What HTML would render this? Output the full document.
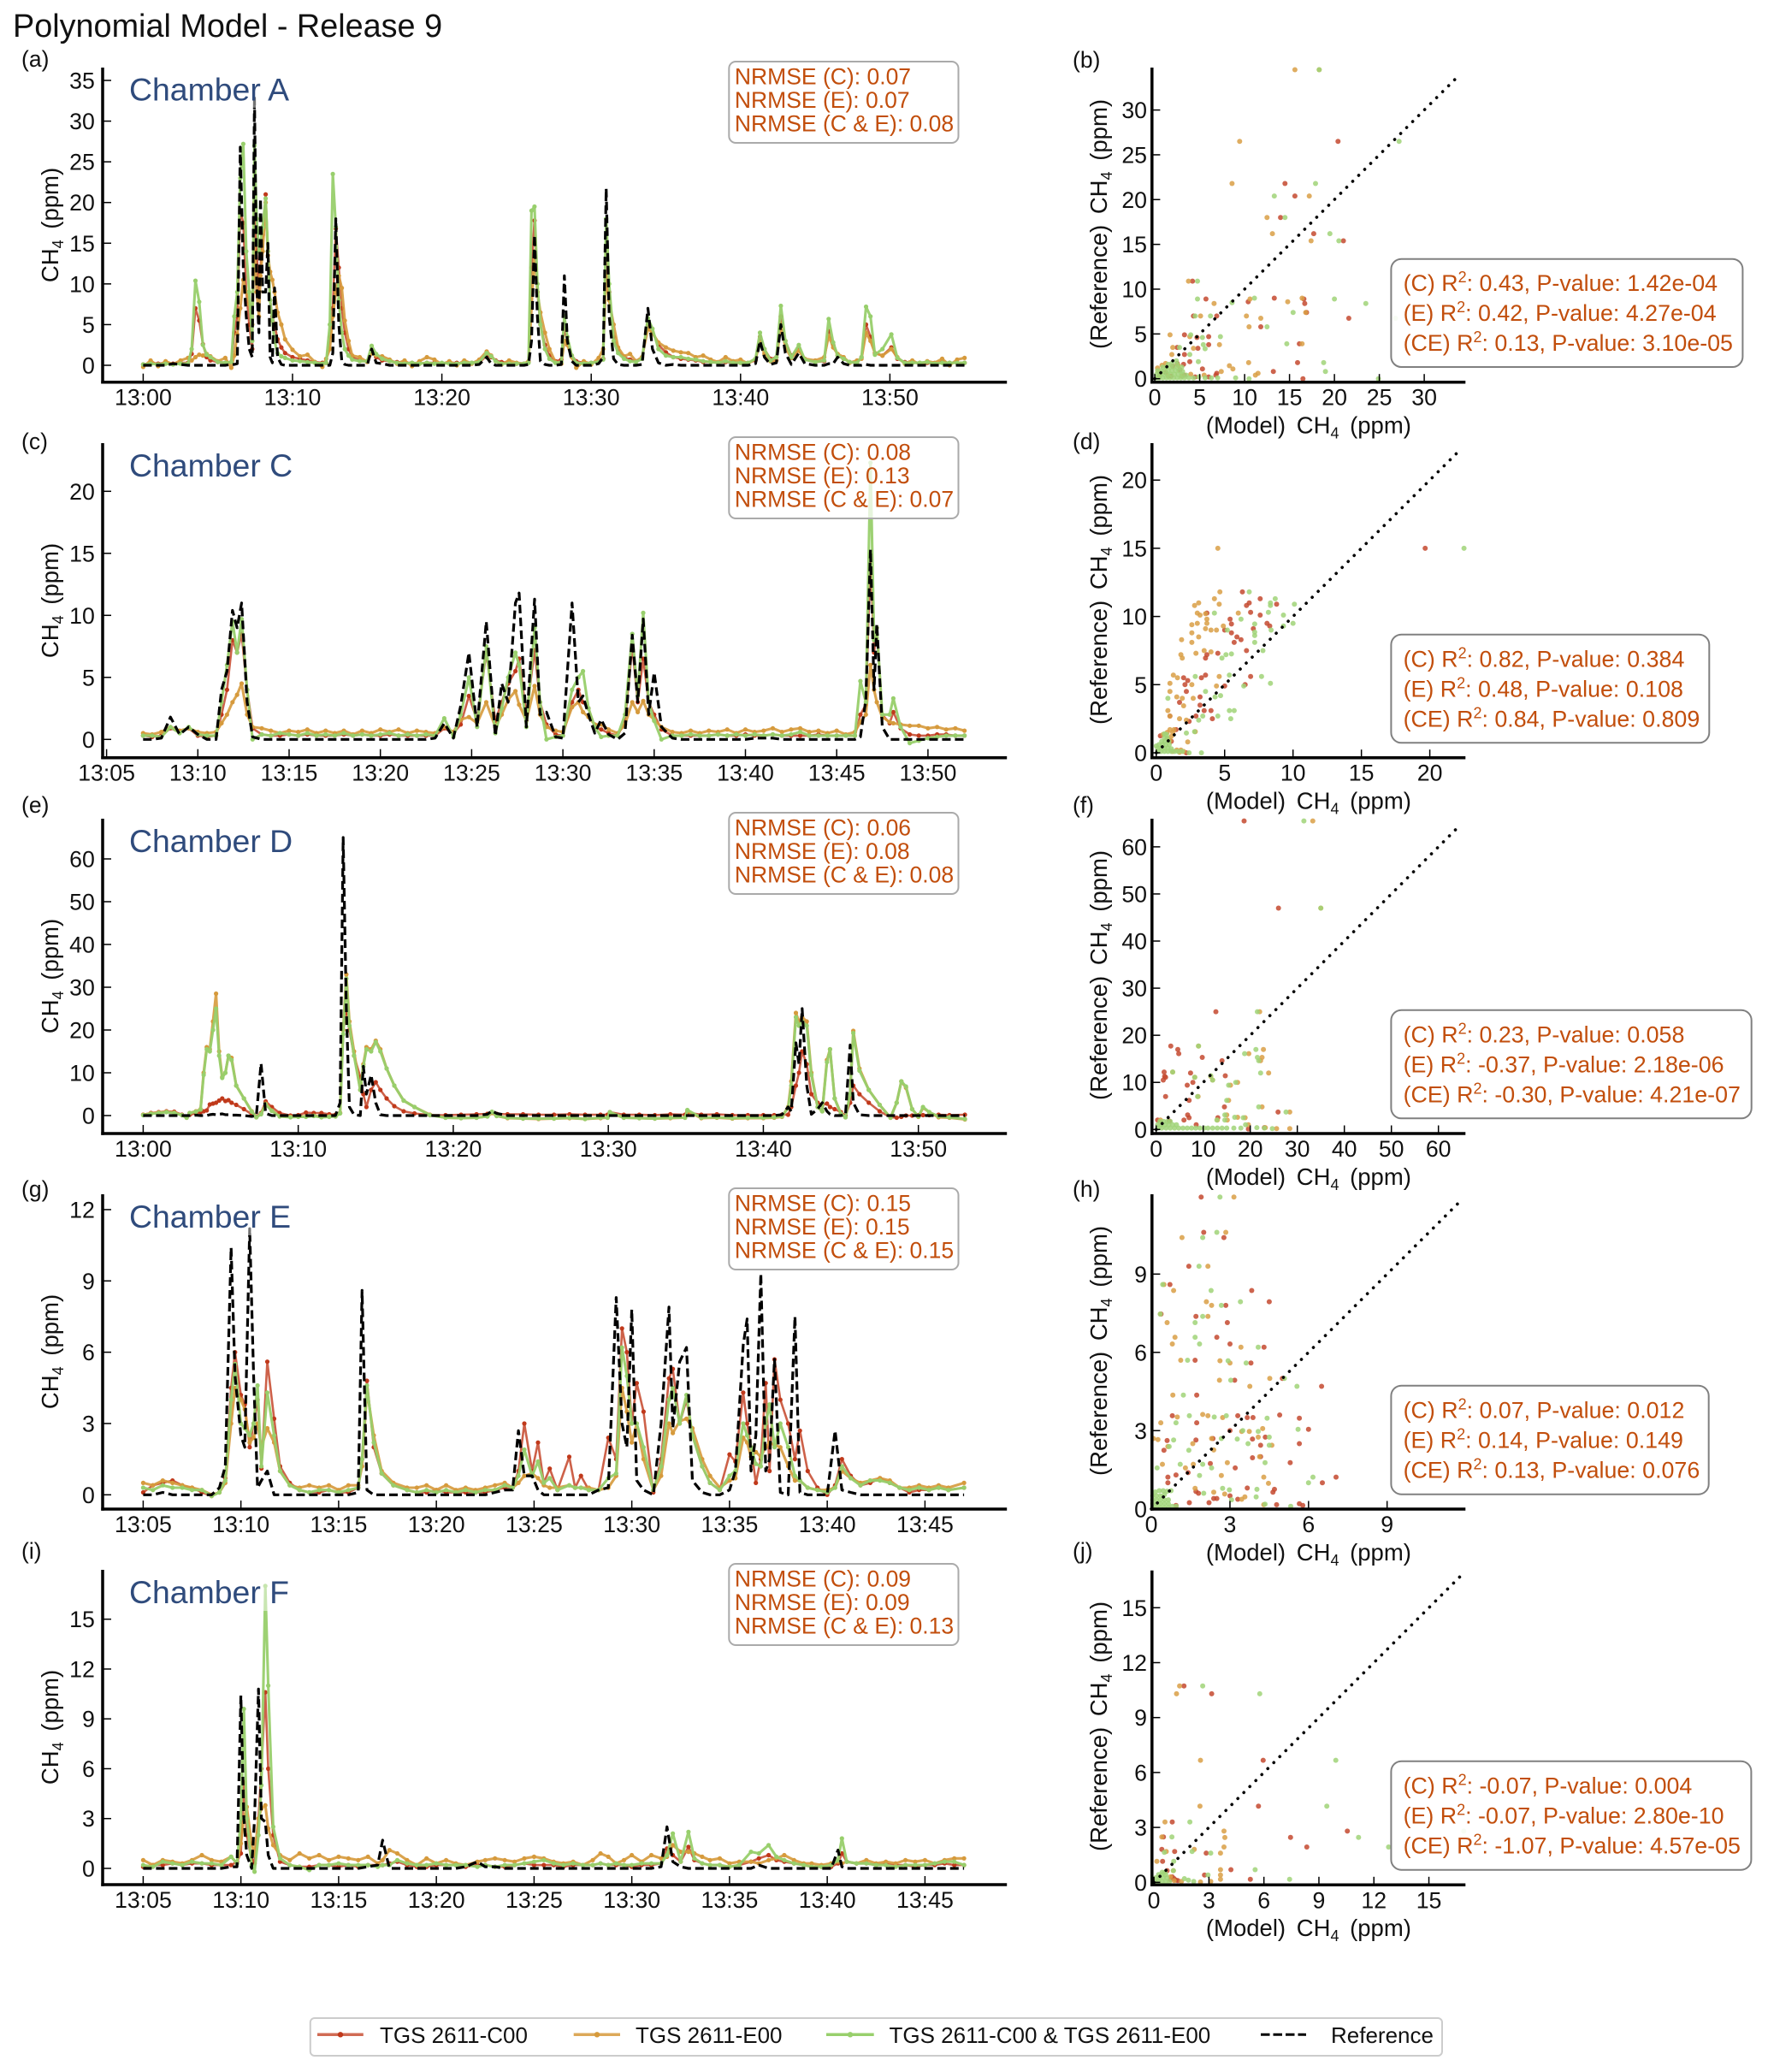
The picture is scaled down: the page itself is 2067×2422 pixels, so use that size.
<!DOCTYPE html>
<html lang="en">
<head>
<meta charset="utf-8">
<title>Polynomial Model - Release 9</title>
<style>
html,body{margin:0;padding:0;background:#fff}
svg{display:block;font-family:"Liberation Sans",Arial,sans-serif}
.tick{font-size:26.7px;fill:#111}
.lbl{font-size:26.5px;fill:#111}
.ttl{font-size:27.5px;fill:#111;word-spacing:5px}
.ann{font-size:26.5px;fill:#c24e0c}
.ann2{font-size:26.8px;fill:#c24e0c}
.ch{font-size:37.4px;fill:#2f4b7c}
.leg{font-size:26px;fill:#111}
.box1{fill:#fff;fill-opacity:.75;stroke:#aaa;stroke-width:2}
.box2{fill:#fff;fill-opacity:.9;stroke:#808080;stroke-width:2}
.chbg{fill:#fff;fill-opacity:.45}
</style>
</head>
<body>
<svg xmlns="http://www.w3.org/2000/svg" width="2067" height="2422" viewBox="0 0 2067 2422">
<rect width="2067" height="2422" fill="#fff"/>
<text x="15" y="43" font-size="37.8" fill="#111">Polynomial Model - Release 9</text>

<g id="plot-a"></g>
<g id="plot-c"></g>
<g id="plot-e"></g>
<g id="plot-g"></g>
<g id="plot-i"></g>
<g id="plot-b"></g>
<g id="plot-d"></g>
<g id="plot-f"></g>
<g id="plot-h"></g>
<g id="plot-j"></g>

<!-- panel letters -->
<g class="lbl">
<text class="lbl" x="25" y="78">(a)</text>
<text class="lbl" x="25" y="525">(c)</text>
<text class="lbl" x="25" y="950">(e)</text>
<text class="lbl" x="25" y="1399">(g)</text>
<text class="lbl" x="25" y="1822">(i)</text>
<text class="lbl" x="1254" y="79">(b)</text>
<text class="lbl" x="1254" y="525">(d)</text>
<text class="lbl" x="1254" y="950">(f)</text>
<text class="lbl" x="1254" y="1399">(h)</text>
<text class="lbl" x="1254" y="1822">(j)</text>
</g>

<!-- chamber labels -->
<rect class="chbg" x="148" y="88" width="196" height="38"/>
<text class="ch" x="151" y="117.7">Chamber A</text>
<rect class="chbg" x="148" y="528" width="196" height="38"/>
<text class="ch" x="151" y="557">Chamber C</text>
<rect class="chbg" x="148" y="967" width="196" height="38"/>
<text class="ch" x="151" y="996">Chamber D</text>
<rect class="chbg" x="148" y="1406" width="196" height="38"/>
<text class="ch" x="151" y="1435">Chamber E</text>
<rect class="chbg" x="148" y="1845" width="196" height="38"/>
<text class="ch" x="151" y="1874">Chamber F</text>

<!-- NRMSE boxes -->
<g>
<rect class="box1" x="852.3" y="72" width="268.2" height="95" rx="8"/>
<text class="ann" x="858.9" y="98.3">NRMSE (C): 0.07</text>
<text class="ann" x="858.9" y="126">NRMSE (E): 0.07</text>
<text class="ann" x="858.9" y="153.7">NRMSE (C &amp; E): 0.08</text>
</g>
<g>
<rect class="box1" x="852.3" y="511" width="268.2" height="95" rx="8"/>
<text class="ann" x="858.9" y="537.5">NRMSE (C): 0.08</text>
<text class="ann" x="858.9" y="565">NRMSE (E): 0.13</text>
<text class="ann" x="858.9" y="592.7">NRMSE (C &amp; E): 0.07</text>
</g>
<g>
<rect class="box1" x="852.3" y="950" width="268.2" height="95" rx="8"/>
<text class="ann" x="858.9" y="976.5">NRMSE (C): 0.06</text>
<text class="ann" x="858.9" y="1004">NRMSE (E): 0.08</text>
<text class="ann" x="858.9" y="1031.7">NRMSE (C &amp; E): 0.08</text>
</g>
<g>
<rect class="box1" x="852.3" y="1389" width="268.2" height="95" rx="8"/>
<text class="ann" x="858.9" y="1415.5">NRMSE (C): 0.15</text>
<text class="ann" x="858.9" y="1443">NRMSE (E): 0.15</text>
<text class="ann" x="858.9" y="1470.7">NRMSE (C &amp; E): 0.15</text>
</g>
<g>
<rect class="box1" x="852.3" y="1828" width="268.2" height="95" rx="8"/>
<text class="ann" x="858.9" y="1854.5">NRMSE (C): 0.09</text>
<text class="ann" x="858.9" y="1882">NRMSE (E): 0.09</text>
<text class="ann" x="858.9" y="1909.7">NRMSE (C &amp; E): 0.13</text>
</g>

<!-- R2 boxes -->
<g>
<rect class="box2" x="1626.4" y="302.7" width="411" height="126.3" rx="12"/>
<text class="ann2" x="1640.6" y="340">(C) R<tspan dy="-10" font-size="18">2</tspan><tspan dy="10">: 0.43, P-value: 1.42e-04</tspan></text>
<text class="ann2" x="1640.6" y="375">(E) R<tspan dy="-10" font-size="18">2</tspan><tspan dy="10">: 0.42, P-value: 4.27e-04</tspan></text>
<text class="ann2" x="1640.6" y="410">(CE) R<tspan dy="-10" font-size="18">2</tspan><tspan dy="10">: 0.13, P-value: 3.10e-05</tspan></text>
</g>
<g>
<rect class="box2" x="1626.4" y="741.7" width="371.9" height="126.6" rx="12"/>
<text class="ann2" x="1640.6" y="779.3">(C) R<tspan dy="-10" font-size="18">2</tspan><tspan dy="10">: 0.82, P-value: 0.384</tspan></text>
<text class="ann2" x="1640.6" y="814.3">(E) R<tspan dy="-10" font-size="18">2</tspan><tspan dy="10">: 0.48, P-value: 0.108</tspan></text>
<text class="ann2" x="1640.6" y="849.3">(CE) R<tspan dy="-10" font-size="18">2</tspan><tspan dy="10">: 0.84, P-value: 0.809</tspan></text>
</g>
<g>
<rect class="box2" x="1626.4" y="1180.7" width="421.3" height="126.6" rx="12"/>
<text class="ann2" x="1640.6" y="1218.3">(C) R<tspan dy="-10" font-size="18">2</tspan><tspan dy="10">: 0.23, P-value: 0.058</tspan></text>
<text class="ann2" x="1640.6" y="1253.3">(E) R<tspan dy="-10" font-size="18">2</tspan><tspan dy="10">: -0.37, P-value: 2.18e-06</tspan></text>
<text class="ann2" x="1640.6" y="1288.3">(CE) R<tspan dy="-10" font-size="18">2</tspan><tspan dy="10">: -0.30, P-value: 4.21e-07</tspan></text>
</g>
<g>
<rect class="box2" x="1626.4" y="1619.7" width="371.3" height="127" rx="12"/>
<text class="ann2" x="1640.6" y="1657.3">(C) R<tspan dy="-10" font-size="18">2</tspan><tspan dy="10">: 0.07, P-value: 0.012</tspan></text>
<text class="ann2" x="1640.6" y="1692.3">(E) R<tspan dy="-10" font-size="18">2</tspan><tspan dy="10">: 0.14, P-value: 0.149</tspan></text>
<text class="ann2" x="1640.6" y="1727.3">(CE) R<tspan dy="-10" font-size="18">2</tspan><tspan dy="10">: 0.13, P-value: 0.076</tspan></text>
</g>
<g>
<rect class="box2" x="1626.4" y="2058.7" width="421" height="127" rx="12"/>
<text class="ann2" x="1640.6" y="2096.3">(C) R<tspan dy="-10" font-size="18">2</tspan><tspan dy="10">: -0.07, P-value: 0.004</tspan></text>
<text class="ann2" x="1640.6" y="2131.3">(E) R<tspan dy="-10" font-size="18">2</tspan><tspan dy="10">: -0.07, P-value: 2.80e-10</tspan></text>
<text class="ann2" x="1640.6" y="2166.3">(CE) R<tspan dy="-10" font-size="18">2</tspan><tspan dy="10">: -1.07, P-value: 4.57e-05</tspan></text>
</g>

<!-- axis titles -->
<g>
<text class="ttl" transform="translate(68,263) rotate(-90)" text-anchor="middle">CH<tspan dy="6" font-size="18">4</tspan><tspan dy="-6"> (ppm)</tspan></text>
<text class="ttl" transform="translate(68,702) rotate(-90)" text-anchor="middle">CH<tspan dy="6" font-size="18">4</tspan><tspan dy="-6"> (ppm)</tspan></text>
<text class="ttl" transform="translate(68,1141) rotate(-90)" text-anchor="middle">CH<tspan dy="6" font-size="18">4</tspan><tspan dy="-6"> (ppm)</tspan></text>
<text class="ttl" transform="translate(68,1580) rotate(-90)" text-anchor="middle">CH<tspan dy="6" font-size="18">4</tspan><tspan dy="-6"> (ppm)</tspan></text>
<text class="ttl" transform="translate(68,2019) rotate(-90)" text-anchor="middle">CH<tspan dy="6" font-size="18">4</tspan><tspan dy="-6"> (ppm)</tspan></text>

<text class="ttl" transform="translate(1294,262) rotate(-90)" text-anchor="middle">(Reference) CH<tspan dy="6" font-size="18">4</tspan><tspan dy="-6"> (ppm)</tspan></text>
<text class="ttl" transform="translate(1294,701) rotate(-90)" text-anchor="middle">(Reference) CH<tspan dy="6" font-size="18">4</tspan><tspan dy="-6"> (ppm)</tspan></text>
<text class="ttl" transform="translate(1294,1140) rotate(-90)" text-anchor="middle">(Reference) CH<tspan dy="6" font-size="18">4</tspan><tspan dy="-6"> (ppm)</tspan></text>
<text class="ttl" transform="translate(1294,1579) rotate(-90)" text-anchor="middle">(Reference) CH<tspan dy="6" font-size="18">4</tspan><tspan dy="-6"> (ppm)</tspan></text>
<text class="ttl" transform="translate(1294,2018) rotate(-90)" text-anchor="middle">(Reference) CH<tspan dy="6" font-size="18">4</tspan><tspan dy="-6"> (ppm)</tspan></text>

<text class="ttl" x="1529.9" y="506.7" text-anchor="middle">(Model) CH<tspan dy="6" font-size="18">4</tspan><tspan dy="-6"> (ppm)</tspan></text>
<text class="ttl" x="1529.9" y="945.7" text-anchor="middle">(Model) CH<tspan dy="6" font-size="18">4</tspan><tspan dy="-6"> (ppm)</tspan></text>
<text class="ttl" x="1529.9" y="1385" text-anchor="middle">(Model) CH<tspan dy="6" font-size="18">4</tspan><tspan dy="-6"> (ppm)</tspan></text>
<text class="ttl" x="1529.9" y="1824" text-anchor="middle">(Model) CH<tspan dy="6" font-size="18">4</tspan><tspan dy="-6"> (ppm)</tspan></text>
<text class="ttl" x="1529.9" y="2263" text-anchor="middle">(Model) CH<tspan dy="6" font-size="18">4</tspan><tspan dy="-6"> (ppm)</tspan></text>
</g>

<!-- legend -->
<g>
<rect x="362.8" y="2359" width="1323.2" height="44" rx="5" fill="#fff" stroke="#ccc" stroke-width="2"/>
<g>
<line x1="371" x2="424.8" y1="2378.3" y2="2378.3" stroke="#c0391b" stroke-width="3.5" stroke-opacity=".75"/>
<circle cx="398" cy="2378.3" r="3.2" fill="#c0391b"/>
<text class="leg" x="444" y="2388">TGS 2611-C00</text>
</g>
<g>
<line x1="670.7" x2="725" y1="2378.3" y2="2378.3" stroke="#d69a3c" stroke-width="3.5" stroke-opacity=".85"/>
<circle cx="698" cy="2378.3" r="3.2" fill="#d69a3c"/>
<text class="leg" x="743" y="2388">TGS 2611-E00</text>
</g>
<g>
<line x1="966" x2="1021.7" y1="2378.3" y2="2378.3" stroke="#98cf6c" stroke-width="3.5"/>
<circle cx="994" cy="2378.3" r="3.2" fill="#98cf6c"/>
<text class="leg" x="1039.5" y="2388">TGS 2611-C00 &amp; TGS 2611-E00</text>
</g>
<g>
<line x1="1474" x2="1527" y1="2378.3" y2="2378.3" stroke="#000" stroke-width="3" stroke-dasharray="10.5 4"/>
<text class="leg" x="1556" y="2388">Reference</text>
</g>
</g>

<script>
// ---------- Chamber A time series (minutes after 13:00, ppm) ----------
const aT=[0,.5,1,1.5,2,2.5,3,3.25,3.5,3.75,
4,4.25,4.5,5,5.5,5.9,6.1,6.3,6.5,6.7,
6.9,7.1,7.3,7.45,7.6,7.75,7.85,8,8.2,8.35,
8.5,8.65,8.8,9,9.25,9.5,10,10.5,11,11.5,
12,12.25,12.5,12.7,12.9,13.1,13.3,13.5,13.75,14,
14.5,15,15.3,15.6,16,16.5,17,17.5,18,18.5,
19,19.5,20,20.5,21,21.5,22,22.5,23,23.3,
23.6,24,24.5,25,25.5,25.8,26,26.2,26.4,26.6,
26.9,27.2,27.6,28,28.2,28.4,28.7,29,29.5,30,
30.5,30.8,31,31.2,31.5,31.8,32.2,32.6,33,33.4,
33.8,34.1,34.5,35,35.5,36,36.5,37,37.5,38,
38.5,39,39.5,40,40.5,41,41.3,41.6,42,42.4,
42.7,43,43.4,43.9,44.3,45,45.6,45.9,46.2,46.5,
46.9,47.3,47.8,48.1,48.4,48.7,49,49.5,50.1,50.5,
51,51.5,52,52.5,53,53.5,54,54.5,55];
const aC=[.1,.3,.2,.3,.2,.3,.3,1.4,7,5.5,
2.6,1,.6,.4,.3,.4,4,6,19,17.5,
9,5,2,20,14,9,12,16,21,14,
8,6,5,3.2,2.2,1.5,1,.8,.6,.4,
.3,.3,3.5,7,16.8,12,7,4,2,1,
.6,.5,1.6,1,.6,.5,.4,.3,.3,.2,
.3,.3,.2,.3,.3,.2,.3,.3,1.2,1,
.6,.4,.3,.2,.2,.4,12,17.8,9,5,
2.5,1.2,.5,.7,4.5,3,1.2,.5,.3,.3,
.4,.8,14,9,3.5,1.8,1,.7,.5,1,
5,4,2.5,1.6,1,.8,.7,.6,.4,.4,
.3,.4,.3,.3,.3,.6,3.5,2,.8,1,
6,3,1.2,2,.7,.4,.5,4.2,2.5,1.2,
.8,.4,.3,1,5,3.5,1.5,1.2,2.2,.8,
.4,.3,.3,.3,.2,.4,.3,.3,.3];
const aE=[-.2,.6,-.1,.5,.1,.6,.9,.6,1,1.3,
1.2,1.4,1.1,.5,.9,-.3,1.2,3.8,7,10.5,
9,7.5,5,15,9,6,11,14,20,13.5,
11.5,10.5,9,6.5,5,3.2,1.9,1.1,1.3,.4,
-.2,.8,2,6,9,11,9.5,5.5,3,1.2,
1,.4,1.5,1.2,1.1,.7,.2,.6,-.1,.5,
1,.7,.1,.5,0,.6,.2,.7,1.7,1.2,
.5,.1,.6,.3,.2,.5,7,14,9,6.5,
4,2,.4,.2,3,2.5,1,-.3,.5,.1,
.9,2,11,8,5,2.2,1.1,1.4,.5,1,
4.5,4,2.8,2.2,1.8,1.6,1.5,1,1.2,.7,
.4,1,.5,.7,.2,.8,2.8,1.4,.5,.6,
5,2.2,.9,1.8,.8,.6,1,3.6,2.2,1.4,
1,.3,.6,.8,4,3,1.5,1.2,2,1,
.2,.6,.1,.5,.3,.8,0,.7,.9];
const aCE=[.1,.2,.1,.2,.1,.2,.2,2,10.4,7.8,
2.5,1.3,1,.4,.3,.4,6,9,23,27.2,
14,9,3,27,18,14,15,17,20.5,14,
8,5.5,3,1.5,1.1,.9,.6,.5,.4,.3,
.2,.3,5,23.5,17,8,4,2,1.2,.7,
.5,.5,2.4,1.4,.8,.5,.3,.2,.3,.2,
.3,.2,.3,.2,.2,.3,.3,.4,1.5,1.1,
.5,.2,.2,.2,.2,.3,19,19.5,10,5,
2,.8,.3,.4,6,3.5,1.2,.3,.2,.3,
.4,.7,18,10,3,1.5,.8,.5,.4,.8,
5.8,4.5,2,1.2,1,1,.8,.7,.5,.4,
.3,.5,.3,.3,.3,.8,4,2,.6,1,
7.3,3,1,2.5,.7,.4,.6,5.7,2.8,1.2,
.8,.4,.3,1,7.2,6,1.3,2,3.8,.9,
.3,.3,.3,.4,.2,.3,.3,.3,.3];
const aRef=[0,0,0,0,.2,.1,0,0,0,0,
0,0,0,0,0,.1,.1,.2,26.8,12,
6,2,1,33,10,4,20.5,9,9,15,
1,.3,9.5,1,.1,0,0,0,0,0,
0,0,0,1.5,18,5,.5,.1,0,0,
0,0,2,.3,.2,0,0,0,0,0,
0,0,0,0,0,0,0,.1,1,.2,
0,0,0,0,0,.1,3,16,6,.5,
.1,0,0,.1,11,3,.5,0,0,0,
.2,1,21.7,6,.8,.1,0,0,0,.1,
7,2,.3,0,.1,0,0,0,0,0,
0,0,0,0,0,.2,3,1,.1,.3,
5,1.5,.1,1.5,.2,0,0,.2,.2,1,
.2,0,0,0,.1,0,0,0,0,0,
0,0,0,0,0,0,0,0,0];
const aTicks=['13:00','13:10','13:20','13:30','13:40','13:50'];
const aYTicks=[0,5,10,15,20,25,30,35];

// ---------- Chamber C time series ----------
const cT=[7,7.5,8,8.5,9,9.5,10,10.5,11,11.3,
11.6,11.9,12.15,12.4,12.7,13,13.5,14,14.5,15,
15.5,16,16.5,17,17.5,18,18.5,19,19.5,20,
20.5,21,21.5,22,22.5,23,23.5,24,24.4,24.85,
25.3,25.8,26.3,26.65,27,27.4,27.6,28,28.45,28.75,
29.1,29.6,30,30.5,30.85,31.1,31.4,31.75,32.1,32.5,
33,33.4,33.8,34.1,34.4,34.7,35,35.4,36,36.5,
37,37.5,38,38.5,39,39.5,40,40.5,41,41.5,
42,42.5,43,43.5,44,44.5,45,45.5,46,46.3,
46.6,46.85,47.05,47.2,47.5,47.9,48.1,48.5,49,49.5,
50,50.5,51,51.5,52];
const cC=[.3,.2,.3,.9,.6,.9,.3,.2,.3,2,
4,8,7,8.5,4,.9,.4,.3,.3,.4,
.3,.4,.3,.3,.3,.4,.3,.4,.3,.3,
.4,.3,.3,.3,.3,.3,.9,.5,1.2,3.5,
1.5,7,1.5,3,4.5,5.5,6.5,2,7.2,3,
1.2,.4,.3,3,4,3,2.5,1,.8,.5,
.3,1.5,7.5,3,6.5,3,2,.8,.3,.3,
.3,.3,.3,.4,.3,.3,.4,.3,.3,.4,
.3,.3,.3,.3,.4,.3,.3,.3,.3,2,
2.8,15,7,9,2,1.3,2.2,.9,.4,.3,
.3,.4,.4,.3,.3];
const cE=[.5,.4,.6,1,.7,.9,.6,.5,.6,1.3,
2,3,3.6,4.5,2,1,.9,.7,.5,.7,
.6,.8,.5,.7,.5,.7,.4,.7,.5,.8,
.6,.8,.5,.7,.6,.5,1,.6,1.6,1.8,
1.3,3,1,2,3.2,3.9,2.8,1.5,4.3,2,
1,.7,.6,2.6,3,2.2,1.8,1.2,1.2,.8,
.5,1.2,3,2.2,3.1,2,1.6,1,.6,.5,
.7,.5,.7,.6,.8,.5,.8,.6,.7,.9,
.6,.8,.9,.6,.7,.5,.7,.4,.6,1.4,
2,6,4,3,1.8,1.4,1.3,1.2,1.1,1.1,
.9,1,.8,.9,.7];
const cCE=[.3,.3,.2,1,.5,1,.4,.3,.3,3,
6,9.5,7,9.7,4,0,.4,.3,.5,.4,
.3,.5,.3,.4,.3,.5,.3,.4,.3,.4,
.5,.3,.4,.3,.4,.3,1.7,.2,2,5,
1,7.5,.5,2.5,5,7,6,1,9,3,
0,.2,.3,4,5,5.5,2.5,1,.2,.3,
.3,2,8.5,3.5,10.2,3,1.5,0,.3,.3,
.4,.3,.3,.4,.3,.4,.3,.4,.3,.4,
.3,.4,.6,.3,.3,.3,.3,.3,.3,4.7,
3,22.3,8,9,2,2,3.3,1,-.3,-.1,
.1,.2,.3,.3,.3];
const cRef=[0,0,.1,1.8,.4,1,.4,0,0,4,
5.5,10.4,9,11,3,.2,0,0,0,0,
0,0,0,0,0,0,0,0,0,0,
0,0,0,0,0,.1,1.3,.1,2.7,7,
1,9.5,.3,4.5,3,11,11.8,1,11.3,2,
2.2,.2,.1,11,3,3.5,2,.5,1.6,.4,
0,.5,8.4,3,9.7,2,5.4,1,.1,0,
0,0,0,0,0,0,0,.1,.1,.1,
0,0,0,0,0,0,0,0,0,.2,
3.2,15.3,4,9.3,1,0,0,0,0,0,
0,0,0,0,0];
const cTicks=['13:05','13:10','13:15','13:20','13:25','13:30','13:35','13:40','13:45','13:50'];
const cYTicks=[0,5,10,15,20];

// ---------- Chamber D time series ----------
const eT=[0,.5,1,1.5,2,2.5,2.8,3,3.4,3.7,
3.9,4.1,4.3,4.5,4.7,4.9,5.1,5.3,5.5,5.7,
6,6.5,7,7.3,7.6,7.9,8.3,8.8,9.5,10,
10.5,11,11.5,12,12.4,12.7,12.9,13.1,13.3,13.6,
14,14.2,14.4,14.7,15,15.3,15.7,16.2,16.8,17.5,
18.5,19.5,20.5,21.5,22.2,22.5,22.8,23.5,24.5,25.5,
26.5,27.5,28.5,29.5,29.95,30.1,31,32,33,34,
34.95,35.1,36,37,38,39,40,40.7,41.2,41.6,
41.8,42.1,42.3,42.5,42.8,43.1,43.5,43.8,44.1,44.3,
44.6,45,45.3,45.6,45.8,46.2,46.8,47.5,48.2,48.6,
48.9,49.2,49.6,50,50.3,50.7,51.3,52,53];
const eC=[.2,.6,.8,1,.9,.2,-.3,.2,.5,.8,
1,1.2,2.6,2.8,3,3.5,4,3.4,3.6,3,
2.5,1.5,.3,-.2,.6,3.3,2,.6,0,.1,
.7,.6,.6,.3,.2,.6,20,24,20,14,
9,5,2,6,7.8,6,4,2.2,1,.5,
.1,.1,.2,.3,.4,.8,.4,.3,.3,.2,
.2,.3,.2,.2,.2,.8,.2,.2,.1,.3,
.2,.7,.2,.3,.1,.1,.1,.1,.2,.2,
2,7,10,15,12,5,3,2.5,2.8,2,
1.5,.8,0,3,7,5,3,1,-.4,-.5,
-.3,0,0,.1,.1,.1,.2,.1,.2];
const eE=[.2,.5,.7,.9,.7,.1,-.5,.6,1,1.5,
10,16,15.5,22,28.5,15,9,10,14,13.5,
7,4,1,-.4,.4,2.8,1.2,-.1,-.3,-.2,
-.2,0,-.3,-.2,-.2,.6,20,33,22,15,
6,12,16,15.5,17.5,15.5,11,7,3.5,2,
.2,-.5,-.6,-.5,-.2,.6,-.1,-.6,-.7,-.8,
-.7,-.6,-.8,-.6,-.5,.6,-.5,-.6,-.7,-.6,
-.5,1,-.6,-.5,-.7,-.6,-.6,-.5,-.3,2,
8,24,22,23,22,10,2,1,13,15.5,
4,.5,-.4,5,19.8,11,6,2.5,-.5,3,
8,6.5,1.5,-.3,1.8,.8,-.4,-.5,-.9];
const eCE=[.1,.4,.6,.8,.6,.1,-.5,.6,.9,1.4,
9.5,15.5,15,20,25,14,8.8,10,14,13,
7,4,.9,-.4,.3,2.6,1.1,-.2,-.4,-.3,
-.3,-.1,-.4,-.3,-.2,.5,19,32,21,14,
6,11.5,15.5,15,17.2,15,11,7,3.5,2,
.1,-.5,-.6,-.5,-.2,.9,-.1,-.5,-.7,-.7,
-.7,-.5,-.8,-.5,-.5,.8,-.5,-.6,-.7,-.5,
-.5,1.3,-.5,-.4,-.6,-.5,-.5,-.4,-.2,1.8,
7,23,21,22,21,9.5,2,1,12.5,15.5,
4,.4,-.4,5,19.3,10.5,6,2.5,-.5,3,
8,6.8,1.5,-.2,2,.8,-.2,-.4,-.8];
const eRef=[0,0,0,0,0,0,0,0,.1,0,
0,0,.2,.3,.2,.3,.4,.2,.2,.1,
.1,0,-.2,0,12.2,.5,0,0,0,0,
0,0,0,0,0,3,65,25,2,.2,
0,11.5,5,9.5,3,.2,0,0,0,0,
0,0,0,0,.3,1.1,.5,0,0,0,
0,0,0,0,0,0,0,0,0,0,
0,0,0,0,0,0,0,0,.2,2,
1,17,12,25,7,.3,1.5,3,1,.3,
0,0,.2,16.5,3,.2,0,0,0,0,
0,0,0,0,0,0,0,0,0];
const eTicks=['13:00','13:10','13:20','13:30','13:40','13:50'];
const eYTicks=[0,10,20,30,40,50,60];

// ---------- Chamber E time series ----------
const gT=[5,5.5,6,6.5,7,7.5,8,8.5,8.9,9.2,
9.5,9.7,10,10.2,10.45,10.65,10.85,11.05,11.35,11.7,
12,12.5,13,13.5,14,14.5,15,15.5,16,16.2,
16.45,16.8,17.2,17.8,18.5,19,19.5,20,20.5,21,
21.5,22,22.5,23,23.5,23.9,24.2,24.5,24.9,25.2,
25.5,25.8,26.2,26.8,27.1,27.4,27.8,28.3,28.8,29.2,
29.5,29.75,30,30.25,30.6,31.1,31.5,31.9,32.1,32.45,
32.8,33.1,33.6,34,34.5,35,35.3,35.7,35.9,36.1,
36.35,36.6,36.85,37.05,37.3,37.6,38,38.35,38.6,39,
39.5,40,40.4,40.75,41.2,41.7,42.2,42.7,43.2,43.7,
44.2,44.7,45.2,45.7,46.2,47];
const gC=[.1,.4,.5,.6,.4,.3,.1,-.05,.1,.7,
4.5,6,4.2,3.8,2,3,4,1.1,5.6,3.2,
1.2,.5,.2,.1,.1,.2,.1,.1,.3,1.5,
4.8,2,.9,.4,.2,.1,.1,.2,.1,.1,
.1,.1,.1,.2,.3,.3,1,3,1,2.2,
.5,1.1,.2,1.6,.3,.8,.2,.2,2.4,1.5,
7,6,3,4.7,3.5,.1,1.5,4.9,5.3,3,
4,2.5,1.2,.5,.2,1.7,1.4,4.3,3,2,
.5,1.5,4.7,1,5.7,4,3,1.5,2.7,1,
.3,0,.4,1.5,.8,.4,.5,.7,.5,.3,
.1,.2,.2,.3,.2,.3];
const gE=[.5,.4,.6,.5,.4,.3,.2,0,.1,.5,
3,4.5,4,3.6,2.2,2.4,3,2,2.8,2.2,
1,.4,.3,.4,.3,.4,.2,.4,.4,1.2,
4.4,2.5,1,.5,.3,.3,.4,.2,.4,.2,
.3,.2,.3,.4,.5,.3,.5,.8,.9,.7,
.4,.3,.3,.4,.3,.3,.3,.2,.3,.8,
4.5,3.5,2.2,3,1.5,.2,.8,3,2.6,3.1,
3.2,2.8,1.5,.8,.3,.6,.7,2.4,2.2,1.6,
1.8,1.6,2,2.2,2.1,2,1.2,.6,.6,.3,
.2,.2,.3,1,.7,.5,.6,.7,.6,.3,
.3,.4,.3,.4,.3,.5];
const gCE=[.3,.2,.4,.3,.3,.2,.2,-.05,.1,.6,
4,5.5,3,2.8,2.5,3,4.6,1.2,4.3,2.5,
1,.4,.2,.1,.2,.2,.1,.2,.3,1.5,
4.6,2.2,.9,.4,.2,.1,.2,.1,.2,.1,
.2,.1,.2,.2,.4,.3,.8,1.9,.8,1.4,
.5,.7,.2,.4,.3,.3,.2,.2,.7,.9,
6.2,5,3,3,2,.2,1.2,4,4.5,3,
4.2,2.5,1.2,.5,.2,.8,1,3,2.5,2,
1.3,1.2,3,3.8,2,3,2,.8,.6,.3,
.2,.1,.3,1.2,.7,.4,.6,.6,.5,.3,
.2,.3,.2,.3,.2,.3];
const gRef=[0,0,.1,0,0,0,0,0,.3,1.2,
10.4,5,2.5,2,11.2,5,.3,.6,1,0,
0,0,0,0,0,0,0,0,.1,8.6,
.2,0,0,0,0,0,0,0,0,0,
0,0,0,.1,.2,.2,2.7,.8,.8,.2,
0,0,0,0,0,0,0,.2,.3,8.3,
3,2,7.8,.6,.2,0,3,7.9,2.8,5.6,
6.2,.6,.1,0,0,.2,1,6.3,7.4,1,
2.5,9.3,1,1.5,5.7,.1,0,7.5,.1,0,
0,0,2.7,.2,.1,0,0,0,0,0,
0,0,0,0,0,0];
const gTicks=['13:05','13:10','13:15','13:20','13:25','13:30','13:35','13:40','13:45'];
const gYTicks=[0,3,6,9,12];

// ---------- Chamber F time series ----------
const iT=[5,5.5,6,6.5,7,7.5,8,8.5,9,9.5,
9.8,10,10.15,10.3,10.55,10.7,10.9,11.05,11.25,11.4,
11.65,12,12.5,13,13.5,14,14.5,15,15.5,16,
16.5,17,17.25,17.6,18,18.5,19,19.5,20,20.5,
21,21.5,22.1,22.5,23,23.5,24,24.5,25,25.5,
26,26.5,27,27.5,28,28.4,28.8,29.2,29.6,30,
30.5,31,31.5,31.8,32.1,32.5,32.9,33.2,33.6,34,
34.5,35,35.5,36.1,36.5,37,37.4,37.8,38.3,38.8,
39.2,39.7,40.2,40.55,40.75,41,41.5,42,42.5,43,
43.5,44,44.5,45,45.5,46,46.5,47];
const iC=[.1,.2,.2,.3,.2,.3,.3,.2,.2,.2,
.4,.9,5.2,2,.5,.3,3,6,10.6,6,
2,.4,.2,.1,.1,.2,.2,.1,.2,.1,
.2,.2,.2,.3,.4,.2,.1,.1,.2,.2,
.2,.1,.2,.2,.1,.1,.2,.3,.2,.2,
.2,.1,.2,.2,.2,.3,.2,.2,.2,.1,
.2,.2,.3,1.2,.8,.4,1.3,.5,.3,.2,
.2,.1,.2,.4,.6,.8,.5,.4,.3,.2,
.1,.1,.1,.3,.9,.4,.3,.3,.2,.3,
.2,.2,.1,.2,.2,.3,.2,.2];
const iE=[.5,.2,.5,.4,.3,.5,.8,.5,.4,.7,
.3,1.5,3,3.7,1.5,.8,3,3.6,3.8,2.4,
1.4,.8,.5,.9,.6,.8,.5,.7,.6,.5,
.7,.3,.5,1.1,.9,.5,.2,.6,.3,.5,
.3,.2,.4,.5,.6,.5,.4,.6,.7,.6,
.4,.3,.4,.2,.5,.9,.7,.3,.5,.8,
.4,.8,.6,.7,1.4,1,1,.9,.7,.5,
.6,.3,.4,.4,.3,.5,.6,.8,.5,.3,
.3,.2,.3,.4,.3,.4,.3,.5,.3,.4,
.3,.5,.4,.5,.3,.5,.6,.6];
const iCE=[.2,.1,.4,.3,.2,.4,.3,.3,.2,.7,
.3,3,9.6,3,.2,-.2,2,5,17,11,
2.5,.6,.2,.1,-.1,.2,.2,.3,.2,.2,
.2,.1,.2,.2,.5,.3,.2,.2,.3,.2,
.2,.2,.1,.2,.1,.2,.2,.3,.4,.5,
.3,.2,.3,.2,.2,.3,.2,.3,.2,.2,
.3,.3,.3,.8,2.1,.4,2.2,.6,.3,.2,
.2,.1,.2,1,.9,1.4,.7,.5,.3,.2,
.1,.1,.2,.5,1.8,.4,.3,.3,.2,.2,
.1,.2,.2,.2,.3,.4,.4,.2];
const iRef=[0,0,0,0,0,0,0,0,0,.1,
.1,10.4,3,.8,0,3,10.8,3,2.8,.8,
0,0,0,0,0,0,0,0,0,0,
.1,.2,1.7,0,0,0,0,0,0,0,
0,.1,.4,.1,.1,0,0,0,0,0,
0,0,0,0,0,0,0,0,0,0,
0,0,.1,2.5,.4,.1,0,0,0,0,
0,0,0,0,.2,0,0,0,0,0,
0,0,0,1.1,.1,0,0,0,0,0,
0,0,0,0,0,0,0,0];
const iTicks=['13:05','13:10','13:15','13:20','13:25','13:30','13:35','13:40','13:45'];
const iYTicks=[0,3,6,9,12,15];

// ---------- Scatter points [model ppm, reference ppm] ----------
const bC=[[20.4,26.5],[14.5,21.8],[15.6,20.4],[14,18],[17.7,16.2],[21,15.4],[4.2,10.9],[5.7,8.9],[13.3,9],[16.6,8.9],[16.7,8.4],[10.4,8.6],[6.9,7],[4.3,7],[16.9,7.4],[21.6,6.75],[11.8,5.8],[3.3,4.9],[6,4.7],[4.7,4.6],[16.1,3.9],[6,3.8],[2.5,3.5],[4.8,3.4],[3.3,2.7],[15.9,1.8],[3.9,1.9],[13.2,.8],[16.5,0],[6.9,.6],[5.3,1.1],[2.5,1.7],[1.2,.7],[2,1.4],[2.8,1],[3.2,1.6],[1.8,.3],[3.3,.4],[4.5,.2],[6,.2],[6.8,.4]];
const bE=[[9.45,26.5],[8.6,21.8],[17.2,20.4],[12.5,18],[13.1,16.2],[17.4,15.4],[3.75,10.9],[6.6,8.4],[10.6,8.9],[14.8,8.6],[16.4,9],[16.8,7.4],[10.2,7],[5.1,7],[11.8,6.75],[10.5,5.8],[1.7,4.9],[3.9,4.7],[7.2,3.8],[16.4,3.9],[2,3.5],[4.3,3.4],[1.9,2.7],[10.45,1.8],[8.3,1.45],[8.7,1.1],[11.5,.6],[11.2,.4],[7.4,.8],[15.6,34.5],[18.3,34.5],[.4,.8],[.3,1.2],[.8,1.5],[1.2,1.7],[.5,.3],[1.5,.3],[2.6,1.5],[3,.3],[4,.5],[5.5,.4]];
const bCE=[[27.2,26.5],[17.9,21.8],[13.3,20.4],[14.5,18],[19.5,16.2],[20.5,15.4],[4.75,10.9],[4.75,8.9],[11.1,9],[20,8.9],[23.5,8.4],[8.6,8.5],[15.4,7.4],[6.2,7],[4.5,7],[26.8,6.75],[12.5,5.8],[7.3,4.7],[5.3,4.6],[4,4.9],[14.7,3.9],[5.4,3.8],[5.6,3.35],[2.75,3.5],[3.9,2.7],[18.8,1.8],[4.85,1.9],[19,.8],[24.9,0],[9,.1],[10.5,0],[18.3,34.5],
[.2,.1],[.5,.1],[.9,.1],[1.3,.1],[1.7,.1],[2.1,.1],[2.5,.1],[2.9,.1],[3.3,.1],[3.8,.1],[4.3,.1],[4.9,.2],[5.6,.1],[6.3,.1],[7,.1],[.2,.5],[.6,.5],[1,.5],[1.4,.5],[1.8,.5],[2.2,.5],[2.6,.5],[3,.5],[3.5,.4],[.3,.9],[.7,.9],[1.1,.9],[1.5,.9],[1.9,.9],[2.3,.9],[2.7,.9],[3.1,.8],[.9,1.3],[1.3,1.3],[1.7,1.3],[2.1,1.3],[2.6,1.2],[1.5,1.6],[1.9,1.7],[2.5,1.6],[2.4,2],[3,1.3]];
const dC=[[19.66,15],[6.3,11.8],[7.6,11.3],[6.8,11],[8.8,10.9],[6.6,10.8],[3.7,10.25],[6.9,10.3],[7.6,10.1],[5.4,9.8],[5.5,9.45],[8.1,9.5],[8.3,9.3],[5,9],[7.1,9.1],[5.5,8.8],[5.9,8.5],[6.2,8.3],[5.7,8.1],[6.6,7.5],[4.5,7.3],[3.7,7.2],[3.6,6.95],[2,5.5],[3.6,5.7],[3.3,5.5],[2.3,5.3],[2.1,5],[6.9,5.6],[6.5,5],[5,4.9],[2.2,4.5],[3.2,4.1],[1.7,3.7],[3.2,3.5],[3.5,3.1],[4,3.1],[4.1,2.5],[2.4,2.3],[2.9,2.7],[2.2,0],[1,2.7],[1.45,1.7],[.3,1.25],[1.1,.85]];
const dE=[[4.5,15],[4.65,11.8],[3.1,11],[2.8,10.8],[4.25,11.3],[4.6,10.9],[3,10.25],[3.2,10.1],[3.6,10.2],[3.7,9.8],[2.6,9.4],[3,9.5],[3.7,9.5],[4.9,9.3],[3.6,9.1],[4,9],[4.4,9],[2.6,8.8],[3.1,8.5],[1.85,8.3],[2.6,8.1],[6,10.25],[1.8,7.2],[1.9,6.95],[2.9,7.3],[3.5,7.5],[4,7.4],[1.25,5.7],[1.55,5.5],[1,5.1],[4.6,5.6],[2.6,5],[4.4,4.9],[1,4.5],[1.5,4.1],[1.9,4],[2.7,4],[2,3.45],[.85,3.1],[1,2.7],[1.7,2.5],[2.2,2.4],[2.85,1.55],[2.3,.8],[.5,1.35],[1.3,1.7],[.8,1.05],[1.2,.1],[1.5,.2],[1.8,.2],[2,.1],[1.7,.05],[1,.9],[1.1,1.2],[1.2,1.5],[1,1.7],[.8,1.5]];
const dCE=[[22.5,15],[6.8,11.8],[8.7,11.3],[8.35,11],[10.1,10.9],[8.35,10.8],[4.25,10.25],[8.2,10.3],[9.3,10.1],[6.2,9.8],[7.2,9.45],[10,9.5],[9.3,9.3],[8.4,9],[5.2,9],[7.2,8.85],[7.2,8.6],[7.2,8.1],[7.8,7.5],[4.8,6.95],[5.1,7.2],[5.5,7.25],[7.7,5.6],[8.35,5.1],[5.35,5.7],[2.85,5.6],[6.4,4.9],[3.6,4.5],[4.7,4.2],[4.3,4.1],[.85,4],[5.35,3.1],[5.7,3.1],[5.45,2.5],[4.5,2.7],[3.4,2.7],[3.1,2.4],[2.8,1.55],[2.2,1.45],[3.3,0],[2.4,0],[0,.5],[.6,1.4],
[.1,.1],[.35,.1],[.6,.1],[.85,.1],[1.1,.1],[1.35,.1],[1.6,.1],[1.9,.1],[.1,.35],[.35,.35],[.6,.35],[.85,.35],[1.1,.3],[.2,.6],[.45,.6],[.7,.6],[.95,.6],[.4,.85],[.65,.85],[.9,.85],[.6,1.1],[.8,1.1],[.75,1.35]];
const fC=[[18.7,65.5],[26,47],[12.7,25],[3.1,17.7],[4.6,17],[4.8,16.1],[9.8,15.3],[14,14.6],[1.7,12.2],[7.3,12],[1.8,11.3],[2,11.1],[14.7,11.4],[1.5,10.5],[6.6,9.4],[7.8,10],[2,7],[7,6.2],[14.5,4.8],[25.9,3.7],[6.7,3.1],[7,2.5],[5.9,2],[13.1,2.5],[8.5,1],[.3,2],[2.8,1.8],[19.6,.1],[23,.4]];
const fE=[[33.3,65.5],[35,47],[22,25],[9,17.7],[22.8,17],[19.7,16.1],[22.5,15.3],[22.2,14.6],[3.5,12.2],[23.9,12],[8.2,11.1],[11.6,11.3],[12,10.5],[17.3,10],[15.8,9.4],[8.9,7],[15.4,6.2],[22.5,4.8],[28.4,3.7],[15,3.1],[18.9,2.5],[17.3,2.6],[15.1,2],[13,2],[19.6,1],[28.4,.2],[25.6,.2],[23.2,.4],[.9,2]];
const fCE=[[31.4,65.5],[35,47],[21.5,25],[9,17.7],[21.2,17],[18.8,16.1],[21.5,15.3],[21.8,14.6],[3.5,12.2],[22.2,12],[8.2,11.1],[11.6,11.4],[12,10.5],[16.9,10],[15.4,9.4],[8.8,7],[15,6.2],[21.8,4.8],[27.6,3.7],[14.6,3.1],[18.5,2.5],[16.7,2.6],[14.6,2],[12.9,2],[19,1],[24.7,.2],[21.4,.4],[23,.3],
[.3,.3],[1.2,.3],[2.1,.3],[3,.3],[3.9,.3],[4.8,.3],[5.7,.3],[6.6,.3],[7.5,.3],[8.4,.3],[9.3,.3],[10.2,.3],[11,.3],[12,.3],[13,.3],[14,.3],[15,.3],[16.5,.3],[18,.3],[.3,1],[1.1,1],[1.9,1],[2.7,1],[3.5,1],[4.3,1],[.8,1.7],[1.6,1.7],[2.4,1.7],[3,1.7]];
const hC=[[1.9,11.95],[2,10.6],[2.77,10.4],[1.43,9.3],[.71,8.6],[3.83,8.37],[4.5,7.94],[2.84,7.8],[1.7,7.38],[.37,7.47],[2.9,7.14],[2.5,6.58],[3,6.32],[4.3,6.2],[1.67,5.7],[3.8,5.59],[3.18,4.93],[5,5],[6.5,4.7],[1.73,4.36],[.8,3.57],[3.3,3.57],[3.66,3.5],[3.88,3.5],[4.9,3.6],[5.65,3.48],[1.73,3.3],[3,3],[6,3.05],[1.7,2.64],[2.35,2.7],[3.86,2.68],[4.35,2.75],[5.65,2.5],[.48,2.25],[.6,2.62],[4.17,2.44],[3.86,1.96],[5.3,1.77],[2.25,1.74],[3.2,1.57],[4.17,2],[7.05,1.22],[6.53,1],[1.4,1.39],[.94,1.3],[.63,1.22],[.63,1],[3.66,.8],[4.7,.75],[4.64,.64],[1.7,.67],[1.8,.6],[2.5,.4],[2.38,.4],[3.3,.37],[5.65,.2],[5.78,.13],[4.78,.16],[.94,.13],[1.45,.24],[2.2,.24],[3,.5]];
const hE=[[3.15,11.95],[2.84,10.6],[1.17,10.4],[2.16,9.3],[.48,8.6],[.85,8.37],[2.1,7.94],[2.3,7.8],[2.16,7.38],[.34,7.47],[.6,7.14],[.9,6.58],[.8,6.32],[3.42,6.2],[1.12,5.7],[2.62,5.68],[3,5.59],[2.6,4.93],[4.52,5],[3.76,4.7],[.82,4.36],[.99,3.52],[1.96,3.62],[2.16,3.57],[2.72,3.5],[.36,3.3],[3.45,2.97],[3.74,2.97],[4.25,3.08],[.08,2.7],[.25,2.66],[2.3,2.7],[4.08,2.75],[1.58,2.5],[.63,2.39],[4.6,2.44],[2.38,2.26],[4.13,2],[2.9,1.77],[.42,1.71],[1.6,1.71],[1.3,1.57],[2.67,1.28],[4.29,1.22],[4.47,.98],[1.67,.79],[2.38,.64],[2.8,.57],[3.57,.46],[3.45,.37],[4.29,.16]];
const hCE=[[2.62,11.95],[2.5,10.6],[1.96,10.4],[1.82,9.3],[.43,8.6],[2.28,8.37],[3.4,7.94],[2.67,7.8],[1.96,7.38],[.34,7.47],[1.67,7.14],[1.67,6.58],[1.84,6.32],[4.08,6.2],[1.38,5.7],[2.93,5.68],[3.62,5.59],[3.03,4.93],[5.08,5],[5.56,4.7],[1.22,4.36],[1.45,3.57],[2.4,3.52],[2.86,3.57],[4.42,3.48],[.94,3.3],[3.49,3],[5.6,3.05],[.85,2.64],[.68,2.39],[2.67,2.7],[3.28,2.68],[4.5,2.75],[3.69,2.5],[1.43,2.25],[4.08,2.97],[4.5,2.44],[4.34,1.77],[1.96,1.71],[2.3,1.57],[1.1,1.71],[.22,1.57],[1.84,1.28],[6.17,1.22],[6,1],[4.03,.75],[2.72,.79],[2.98,.73],[2,.6],[3.06,.35],[4,.46],[5.32,.1],[4.34,.18],
[.05,.05],[.2,.05],[.35,.05],[.5,.05],[.05,.2],[.2,.2],[.35,.2],[.5,.2],[.65,.2],[.05,.35],[.2,.35],[.35,.35],[.5,.35],[.65,.35],[.05,.5],[.2,.5],[.35,.5],[.5,.55],[.15,.65],[.3,.7],[.45,.7],[.6,.68],[.75,.7],[.65,.05],[.8,.1],[.95,.1]];
const jC=[[1.64,10.73],[3.15,10.3],[5.96,6.67],[5.7,4.16],[1,3.3],[10.55,2.8],[7.45,2.46],[.52,2.48],[8.34,1.93],[.43,1.8],[1.13,1.68],[2.85,1.6],[.47,1.15],[.72,.64],[4.2,.69],[2.76,.4],[5.26,.17],[1.2,.12],[.9,.15],[1.1,.2],[1.3,.1],[1,.3]];
const jE=[[1.4,10.73],[1.23,10.3],[2.54,6.67],[2.51,4.16],[.6,3.3],[3.82,2.8],[3.87,2.45],[.43,2.48],[3.82,1.93],[2.2,1.8],[3.63,1.6],[.16,1.15],[1.06,.64],[3.63,.69],[3.63,.4],[3.63,.17],[.67,1.68],[3.1,.05],[2.54,.02],[.9,.3],[1.1,.1],[1.5,.05]];
const jCE=[[2.66,10.73],[5.77,10.3],[9.92,6.67],[9.43,4.16],[1.96,3.3],[16.9,2.8],[11.16,2.46],[.98,2.48],[12.8,1.93],[2.08,1.68],[3.1,1.6],[.57,1.64],[1.08,1.15],[1.06,.64],[5.52,.69],[2.95,.4],[7.4,.17],[1.66,.2],[1.88,.12],[2.17,.05],
[.05,.05],[.25,.05],[.45,.05],[.65,.05],[.85,.05],[.1,.25],[.3,.25],[.5,.25],[.7,.25],[.25,.42],[.45,.42],[.65,.42],[.45,.55],[.6,.55]];
const bTicks=[0,5,10,15,20,25,30];
const dTicks=[0,5,10,15,20];
const fTicks=[0,10,20,30,40,50,60];
const hTicks=[0,3,6,9];
const jTicks=[0,3,6,9,12,15];
const bDiagonal=[0,34];
const dDiagonal=[0,22.2];
const fDiagonal=[0,64.7];
const hDiagonal=[0,11.8];
const jDiagonal=[0,16.7];

// ---------- layout (separate from data) ----------
const NS='http://www.w3.org/2000/svg';
const COL={c:'#c0391b',e:'#d69a3c',ce:'#98cf6c'};
const DOT={c:'#c4492f',e:'#d99f45',ce:'#a0d478'};
function mk(tag,attrs,parent){
  const el=document.createElementNS(NS,tag);
  for(const k in attrs) el.setAttribute(k,attrs[k]);
  parent.appendChild(el);
  return el;
}
function tickMinutes(label){
  const p=label.split(':');
  return (Number(p[0])-13)*60+Number(p[1]);
}
function drawTimeSeries(cfg){
  const root=document.getElementById(cfg.id);
  const sx=function(m){return cfg.px0+(m-cfg.m0)*cfg.pxPerMin;};
  const sy=function(v){return cfg.y0-v*cfg.pxPerPpm;};

  const layers=[['c',cfg.c,.8,'series-c00',2.6],['e',cfg.e,.9,'series-e00',3.1],['ce',cfg.ce,.95,'series-c00-e00',3.1]];
  layers.forEach(function(l){
    const g=mk('g',{},root);
    
    
    const pts=cfg.t.map(function(m,i){return sx(m).toFixed(1)+','+sy(l[1][i]).toFixed(1);}).join(' ');
    const line=mk('polyline',{points:pts,fill:'none',stroke:COL[l[0]],'stroke-width':l[4],'stroke-opacity':l[2],'stroke-linejoin':'round'},g);
    
    
    cfg.t.forEach(function(m,i){
      const p=mk('circle',{cx:sx(m).toFixed(1),cy:sy(l[1][i]).toFixed(1),r:2.6,fill:COL[l[0]]},g);
      
      
    });
  });
  const rp=cfg.t.map(function(m,i){return sx(m).toFixed(1)+','+sy(cfg.ref[i]).toFixed(1);}).join(' ');
  const refLine=mk('polyline',{points:rp,fill:'none',stroke:'#000','stroke-width':3.2,'stroke-dasharray':'10 5','stroke-linejoin':'round'},root);
  
  

  const ySpine=mk('line',{x1:120,x2:120,y1:cfg.top,y2:cfg.bottom+1.7,stroke:'#000','stroke-width':3.5},root);
  
  
  const xSpine=mk('line',{x1:118.3,x2:1177.2,y1:cfg.bottom,y2:cfg.bottom,stroke:'#000','stroke-width':3.5},root);
  
  

  cfg.xTicks.forEach(function(lab){
    const px=sx(tickMinutes(lab));
    const tk=mk('line',{x1:px,x2:px,y1:cfg.bottom,y2:cfg.bottom-10,stroke:'#000','stroke-width':1.5},root);
    
    
    const tx=mk('text',{x:px,y:cfg.bottom+27,'text-anchor':'middle','class':'tick'},root);
    tx.textContent=lab;
    
    
  });
  cfg.yTicks.forEach(function(v){
    const py=sy(v);
    const tk=mk('line',{x1:120,x2:130,y1:py,y2:py,stroke:'#000','stroke-width':1.5},root);
    
    
    const tx=mk('text',{x:110.8,y:py+9.5,'text-anchor':'end','class':'tick'},root);
    tx.textContent=String(v);
    
    
  });
}
function drawScatter(cfg){
  const root=document.getElementById(cfg.id);
  const sx=function(v){return cfg.x0+v*cfg.kx;};
  const sy=function(v){return cfg.y0-v*cfg.ky;};
  [['c',cfg.c,'scatter-c00'],['e',cfg.e,'scatter-e00'],['ce',cfg.ce,'scatter-c00-e00']].forEach(function(l){
    const g=mk('g',{},root);
    
    
    l[1].forEach(function(p){
      const d=mk('circle',{cx:sx(p[0]).toFixed(1),cy:sy(p[1]).toFixed(1),r:3,fill:DOT[l[0]],'fill-opacity':.85},g);
      
      
    });
  });
  const diag=mk('line',{x1:sx(cfg.diag[0]),y1:sy(cfg.diag[0]),x2:sx(cfg.diag[1]),y2:sy(cfg.diag[1]),stroke:'#000','stroke-width':3.6,'stroke-linecap':'round','stroke-dasharray':'0.1 9.8'},root);
  
  

  const ySpine=mk('line',{x1:1346.8,x2:1346.8,y1:cfg.top,y2:cfg.bottom+1.7,stroke:'#000','stroke-width':3.5},root);
  
  
  const xSpine=mk('line',{x1:1345,x2:1713.3,y1:cfg.bottom,y2:cfg.bottom,stroke:'#000','stroke-width':3.5},root);
  
  

  cfg.ticks.forEach(function(v){
    const px=sx(v);
    const tk=mk('line',{x1:px,x2:px,y1:cfg.bottom,y2:cfg.bottom-9.5,stroke:'#000','stroke-width':1.5},root);
    
    
    const tx=mk('text',{x:px,y:cfg.bottom+27,'text-anchor':'middle','class':'tick'},root);
    tx.textContent=String(v);
    
    
    const py=sy(v);
    const tk2=mk('line',{x1:1346.8,x2:1356.4,y1:py,y2:py,stroke:'#000','stroke-width':1.5},root);
    
    
    const ty=mk('text',{x:1341,y:py+9.5,'text-anchor':'end','class':'tick'},root);
    ty.textContent=String(v);
    
    
  });
}
drawTimeSeries({id:'plot-a',t:aT,c:aC,e:aE,ce:aCE,ref:aRef,xTicks:aTicks,yTicks:aYTicks,m0:0,px0:167.4,pxPerMin:17.46,y0:427,pxPerPpm:9.514,top:79,bottom:446.7});
drawTimeSeries({id:'plot-c',t:cT,c:cC,e:cE,ce:cCE,ref:cRef,xTicks:cTicks,yTicks:cYTicks,m0:5,px0:124.6,pxPerMin:21.34,y0:864.3,pxPerPpm:14.5,top:518,bottom:885.7});
drawTimeSeries({id:'plot-e',t:eT,c:eC,e:eE,ce:eCE,ref:eRef,xTicks:eTicks,yTicks:eYTicks,m0:0,px0:167.4,pxPerMin:18.126,y0:1304,pxPerPpm:5,top:957,bottom:1325});
drawTimeSeries({id:'plot-g',t:gT,c:gC,e:gE,ce:gCE,ref:gRef,xTicks:gTicks,yTicks:gYTicks,m0:5,px0:167.4,pxPerMin:22.85,y0:1747.3,pxPerPpm:27.78,top:1396,bottom:1764});
drawTimeSeries({id:'plot-i',t:iT,c:iC,e:iE,ce:iCE,ref:iRef,xTicks:iTicks,yTicks:iYTicks,m0:5,px0:167.4,pxPerMin:22.85,y0:2184,pxPerPpm:19.42,top:1835,bottom:2203});
drawScatter({id:'plot-b',c:bC,e:bE,ce:bCE,ticks:bTicks,diag:bDiagonal,x0:1350.1,kx:10.5,y0:442.7,ky:10.47,top:79,bottom:446.7});
drawScatter({id:'plot-d',c:dC,e:dE,ce:dCE,ticks:dTicks,diag:dDiagonal,x0:1351.8,kx:15.99,y0:880,ky:15.94,top:518,bottom:885.7});
drawScatter({id:'plot-f',c:fC,e:fE,ce:fCE,ticks:fTicks,diag:fDiagonal,x0:1351.7,kx:5.5,y0:1320.3,ky:5.507,top:957,bottom:1325});
drawScatter({id:'plot-h',c:hC,e:hE,ce:hCE,ticks:hTicks,diag:hDiagonal,x0:1346.1,kx:30.62,y0:1763.8,ky:30.5,top:1396,bottom:1764});
drawScatter({id:'plot-j',c:jC,e:jE,ce:jCE,ticks:jTicks,diag:jDiagonal,x0:1349.1,kx:21.43,y0:2200.3,ky:21.4,top:1835.7,bottom:2203.3});
</script>
</svg>
</body>
</html>
